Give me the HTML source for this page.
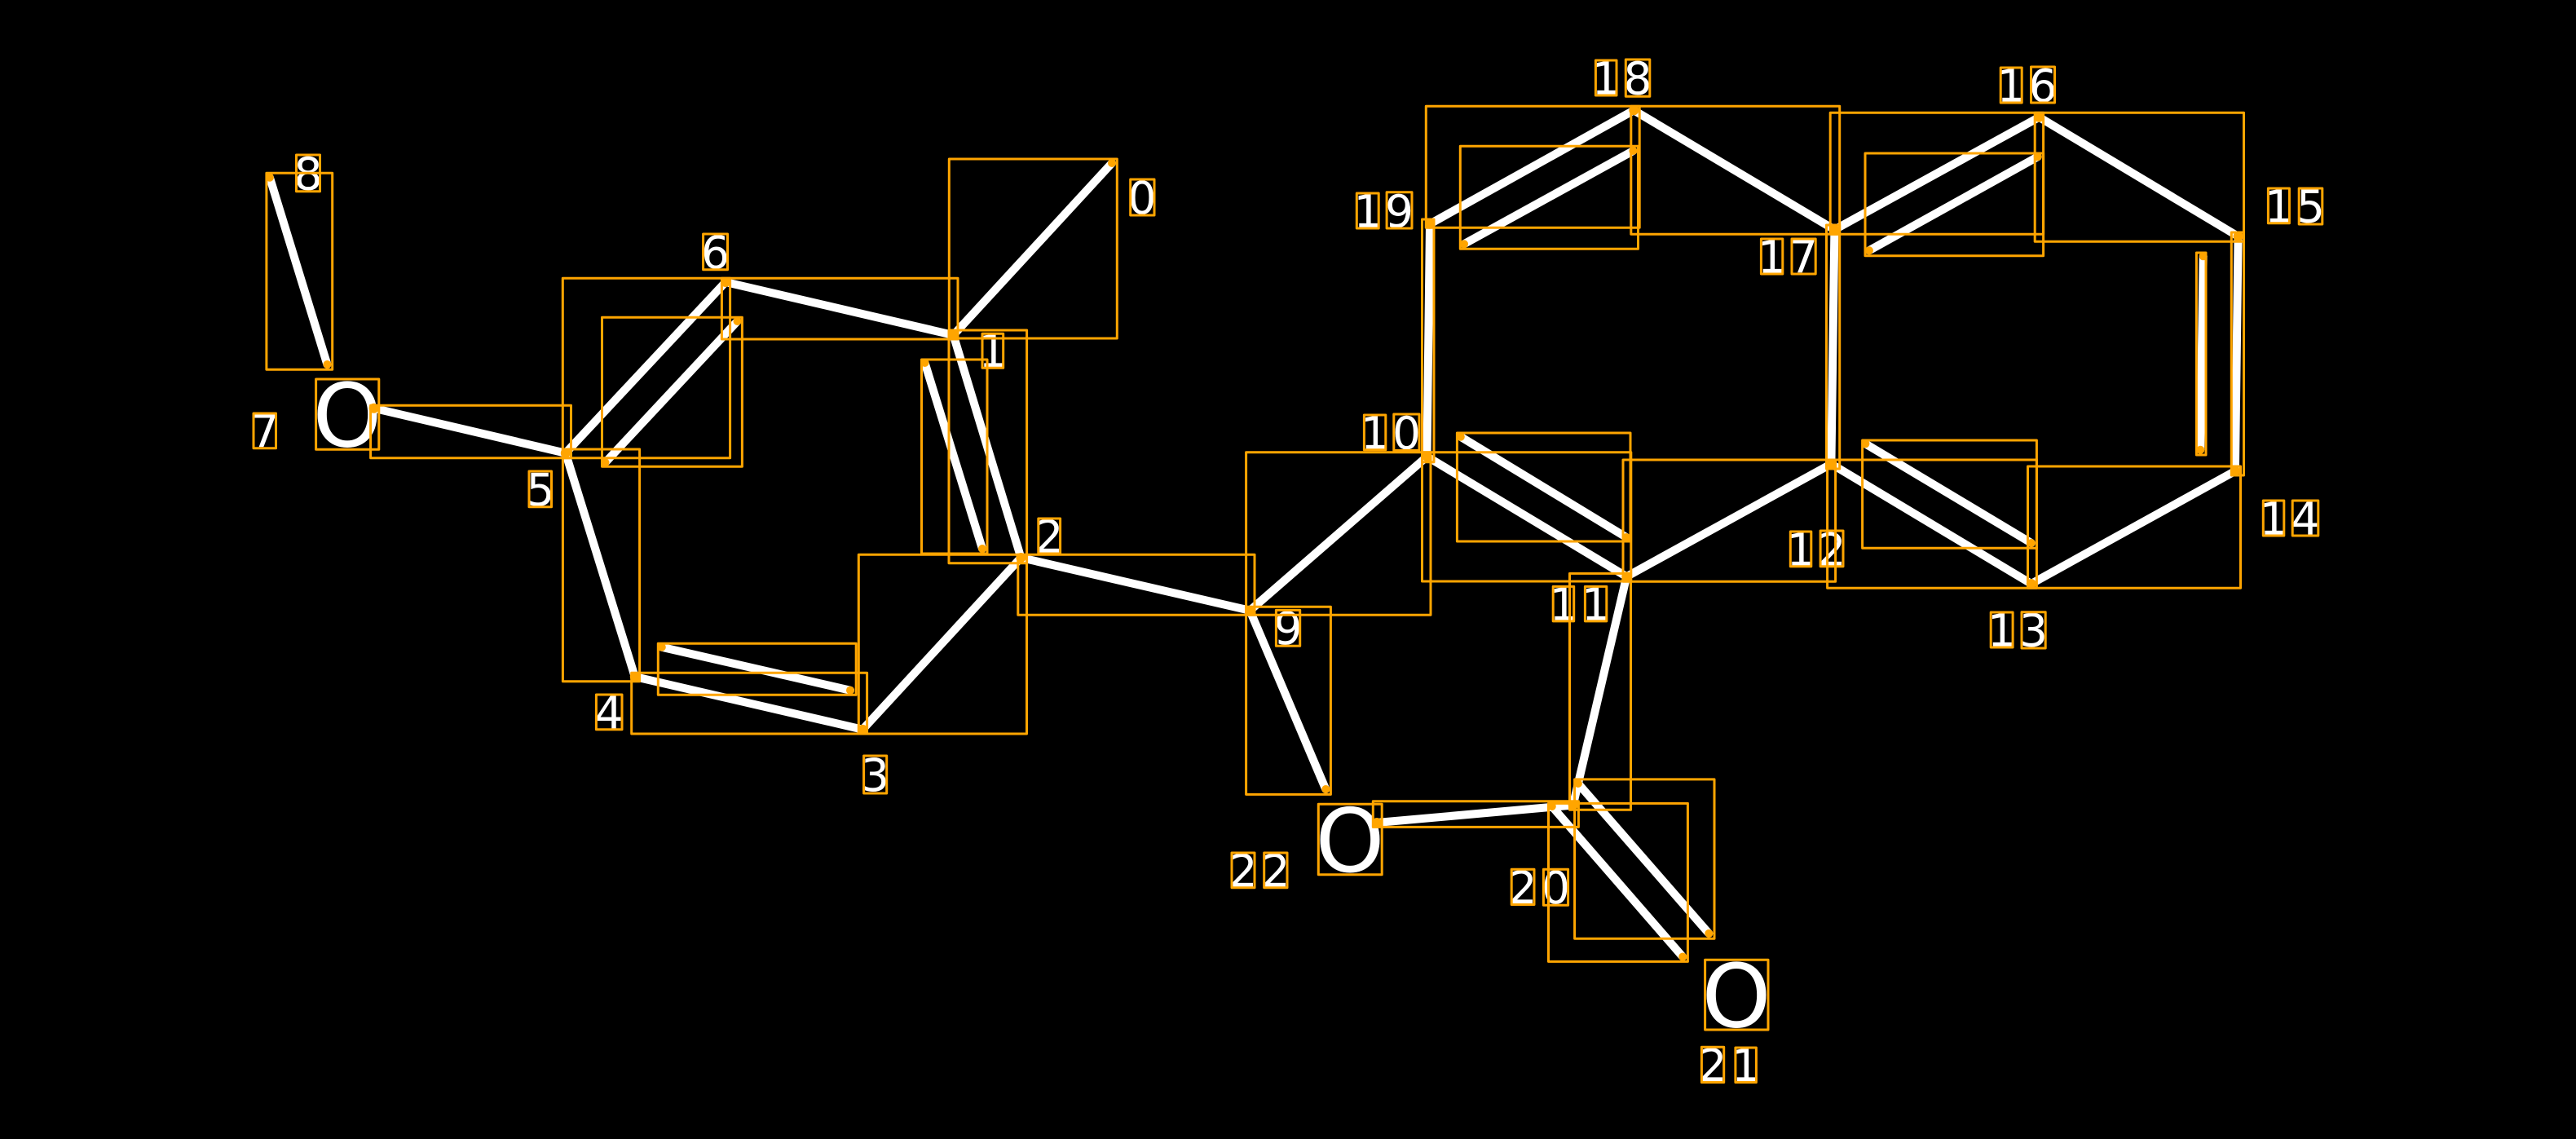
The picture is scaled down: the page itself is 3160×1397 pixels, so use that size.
<!DOCTYPE html>
<html>
<head>
<meta charset="utf-8">
<style>
html,body{margin:0;padding:0;background:#000;width:3160px;height:1397px;overflow:hidden}
svg{display:block}
text{font-family:"DejaVu Sans","Liberation Sans",sans-serif;fill:#fff;text-anchor:middle}
.d{font-size:55px}
.o{font-size:108px}
.w line{stroke:#fff;stroke-width:10;stroke-linecap:round}
.b path{fill:none;stroke:#FFA500;stroke-width:3;stroke-linejoin:round}
.c circle{fill:#FFA500}
</style>
</head>
<body>
<svg width="3160" height="1397" viewBox="0 0 3160 1397" xmlns="http://www.w3.org/2000/svg">
<rect width="3160" height="1397" fill="#000"/>
<g class="w">
<line x1="1364" y1="200" x2="1169.5" y2="411"/>
<line x1="1169.5" y1="411" x2="1252.4" y2="684"/>
<line x1="1134.5" y1="445" x2="1205" y2="673"/>
<line x1="1252.4" y1="684" x2="1058.2" y2="894.7"/>
<line x1="1058.2" y1="894.7" x2="778.8" y2="830"/>
<line x1="811.8" y1="793.7" x2="1043" y2="846.7"/>
<line x1="778.8" y1="830" x2="693.8" y2="555.7"/>
<line x1="693.8" y1="555.7" x2="890" y2="346"/>
<line x1="742.5" y1="567.3" x2="904.5" y2="394"/>
<line x1="890" y1="346" x2="1169.5" y2="411"/>
<line x1="458.6" y1="500.7" x2="693.8" y2="555.7"/>
<line x1="330.9" y1="217.7" x2="401.4" y2="447"/>
<line x1="1252.4" y1="684" x2="1533.3" y2="748.8"/>
<line x1="1533.3" y1="748.8" x2="1750.5" y2="560"/>
<line x1="1533.3" y1="748.8" x2="1626.3" y2="968"/>
<line x1="1750.5" y1="560" x2="1754" y2="274.7"/>
<line x1="1754" y1="274.7" x2="2004.3" y2="135.3"/>
<line x1="1796" y1="299.3" x2="2003.4" y2="185"/>
<line x1="2004.3" y1="135.3" x2="2250.4" y2="281.7"/>
<line x1="2250.4" y1="281.7" x2="2246.4" y2="569"/>
<line x1="2250.4" y1="281.7" x2="2501.4" y2="143.7"/>
<line x1="2292.9" y1="307.3" x2="2499.7" y2="192.3"/>
<line x1="2501.4" y1="143.7" x2="2745.6" y2="290"/>
<line x1="2745.6" y1="290" x2="2741.9" y2="577.7"/>
<line x1="2702.7" y1="314.3" x2="2699.2" y2="551.7"/>
<line x1="2741.9" y1="577.7" x2="2491.8" y2="716"/>
<line x1="2491.8" y1="716" x2="2246.4" y2="569"/>
<line x1="2288.4" y1="544.3" x2="2491.8" y2="666"/>
<line x1="2246.4" y1="569" x2="1995.3" y2="707.2"/>
<line x1="1995.3" y1="707.2" x2="1750.5" y2="560"/>
<line x1="1791.8" y1="535.7" x2="1995" y2="659"/>
<line x1="1995.3" y1="707.2" x2="1929.7" y2="987.5"/>
<line x1="1929.7" y1="987.5" x2="1689" y2="1009"/>
<line x1="1903.8" y1="989" x2="2064.2" y2="1173.5"/>
<line x1="1935.9" y1="961" x2="2096.3" y2="1144.9"/>
</g>
<text class="o" x="426" y="547.5">O</text>
<text class="o" x="1656" y="1069">O</text>
<text class="o" x="2130" y="1259.5">O</text>
<g>
<text class="d" x="1401" y="262">0</text>
<text class="d" x="1218" y="450">1</text>
<text class="d" x="1287" y="677.5">2</text>
<text class="d" x="1073.5" y="970">3</text>
<text class="d" x="747" y="893.5">4</text>
<text class="d" x="663" y="620">5</text>
<text class="d" x="877.5" y="329">6</text>
<text class="d" x="325" y="548.5">7</text>
<text class="d" x="378" y="232.5">8</text>
<text class="d" x="1580" y="790">9</text>
<text class="d" x="1686.5" y="550.5">1</text><text class="d" x="1725.5" y="550.5">0</text>
<text class="d" x="1918" y="760.5">1</text><text class="d" x="1957.5" y="760.5">1</text>
<text class="d" x="2209" y="693.5">1</text><text class="d" x="2247" y="693.5">2</text>
<text class="d" x="2455.5" y="792.5">1</text><text class="d" x="2494.5" y="792.5">3</text>
<text class="d" x="2789" y="655.5">1</text><text class="d" x="2828" y="655.5">4</text>
<text class="d" x="2795.5" y="272.5">1</text><text class="d" x="2834.5" y="272.5">5</text>
<text class="d" x="2467" y="124.5">1</text><text class="d" x="2506" y="124.5">6</text>
<text class="d" x="2173.5" y="334.5">1</text><text class="d" x="2212.5" y="334.5">7</text>
<text class="d" x="1970" y="115.5">1</text><text class="d" x="2009" y="115.5">8</text>
<text class="d" x="1678" y="278.5">1</text><text class="d" x="1716.5" y="278.5">9</text>
<text class="d" x="1868" y="1108">2</text><text class="d" x="1908.5" y="1108">0</text>
<text class="d" x="2101" y="1326">2</text><text class="d" x="2141.5" y="1326">1</text>
<text class="d" x="1525" y="1087.5">2</text><text class="d" x="1565" y="1087.5">2</text>
</g>
<g class="b">
<path d="M1164.3 195H1370.3V415H1164.3Z"/>
<path d="M1164 405H1259.6V690.7H1164Z"/>
<path d="M1130.5 441H1211V679H1130.5Z"/>
<path d="M1053.3 680.3H1259.5V900H1053.3Z"/>
<path d="M774.7 825.3H1063.6V900H774.7Z"/>
<path d="M807.3 789.3H1050.2V852.3H807.3Z"/>
<path d="M690.4 551H784.6V835.7H690.4Z"/>
<path d="M690.3 341.3H895.6V561.7H690.3Z"/>
<path d="M738.5 389.3H910.4V572.3H738.5Z"/>
<path d="M885.4 341.3H1175V416H885.4Z"/>
<path d="M454.6 497.3H700.5V561.7H454.6Z"/>
<path d="M326.9 212.3H407.7V453.3H326.9Z"/>
<path d="M1248.8 680.3H1539V754.3H1248.8Z"/>
<path d="M1528.6 554.7H1755V754.3H1528.6Z"/>
<path d="M1528.6 744.2H1632.4V974.4H1528.6Z"/>
<path d="M1744.5 269H1759V566.7H1744.5Z"/>
<path d="M1749.3 130.3H2011.2V279.3H1749.3Z"/>
<path d="M1791.3 179.3H2009.5V305.3H1791.3Z"/>
<path d="M2000.8 130.3H2256.7V287.3H2000.8Z"/>
<path d="M2240.5 276H2256.7V575H2240.5Z"/>
<path d="M2245.2 138.3H2506.6V287.3H2245.2Z"/>
<path d="M2288 188H2506.6V313.7H2288Z"/>
<path d="M2496.2 138.3H2752.5V296.3H2496.2Z"/>
<path d="M2737.3 285H2752.5V583H2737.3Z"/>
<path d="M2694.4 310H2706V558H2694.4Z"/>
<path d="M2487.5 572H2748.5V721.3H2487.5Z"/>
<path d="M2241.6 564H2498.4V721.3H2241.6Z"/>
<path d="M2284.6 540H2498.4V672.3H2284.6Z"/>
<path d="M1991 564H2251.6V713.3H1991Z"/>
<path d="M1744.5 554.7H2000.8V713H1744.5Z"/>
<path d="M1787.4 531H2000V664H1787.4Z"/>
<path d="M1925.5 703.4H2000.5V993.3H1925.5Z"/>
<path d="M1684.3 982.8H1936.4V1014.4H1684.3Z"/>
<path d="M1899.5 985.4H2070.4V1179.4H1899.5Z"/>
<path d="M1931.6 955.9H2103V1151.2H1931.6Z"/>
<path d="M387.6 465H464.8V551.3H387.6Z"/>
<path d="M1617.3 986.2H1695.2V1072.7H1617.3Z"/>
<path d="M2091.6 1177.3H2169V1263H2091.6Z"/>
<path d="M1386.7 220H1416V264H1386.7Z"/>
<path d="M1205 409.3H1230.7V451.3H1205Z"/>
<path d="M1273.8 636H1300.6V679H1273.8Z"/>
<path d="M1059.6 927H1087.7V973H1059.6Z"/>
<path d="M731.4 852H763V894.7H731.4Z"/>
<path d="M649 578H676.5V621.7H649Z"/>
<path d="M862.6 287H892.5V330.7H862.6Z"/>
<path d="M311 507H338.5V549.7H311Z"/>
<path d="M363.5 190H392.5V234.7H363.5Z"/>
<path d="M1565.4 748.4H1594.7V792.2H1565.4Z"/>
<path d="M1673.4 509H1699.8V551.7H1673.4Z"/><path d="M1709.8 508H1741V552.5H1709.8Z"/>
<path d="M1905.2 719.4H1930.7V761.9H1905.2Z"/><path d="M1944.4 719.4H1970.8V761.9H1944.4Z"/>
<path d="M2196.3 652H2221.8V694.7H2196.3Z"/><path d="M2233.1 651H2261V694.7H2233.1Z"/>
<path d="M2442.2 751H2469.1V794H2442.2Z"/><path d="M2480 750.7H2509.2V795H2480Z"/>
<path d="M2776.3 614H2801.8V657H2776.3Z"/><path d="M2812.2 614H2843.8V657H2812.2Z"/>
<path d="M2782.4 231H2808.4V273.7H2782.4Z"/><path d="M2820.2 231H2848.8V275H2820.2Z"/>
<path d="M2454.2 83H2480.2V126H2454.2Z"/><path d="M2491.5 82H2520.5V126H2491.5Z"/>
<path d="M2160.4 293H2186.8V336H2160.4Z"/><path d="M2198 293H2227.2V336H2198Z"/>
<path d="M1957.4 74H1983V117H1957.4Z"/><path d="M1994.3 73H2023.8V118.3H1994.3Z"/>
<path d="M1664.3 237H1691.2V280H1664.3Z"/><path d="M1701.1 235.7H1732V280H1701.1Z"/>
<path d="M1854.2 1066.2H1882V1109.5H1854.2Z"/><path d="M1893.4 1066.2H1923.6V1110.3H1893.4Z"/>
<path d="M2087.4 1284.2H2114.7V1327.5H2087.4Z"/><path d="M2128.9 1285H2154.4V1327.5H2128.9Z"/>
<path d="M1511 1046H1539V1088.7H1511Z"/><path d="M1550.7 1046H1579V1088.7H1550.7Z"/>
</g>
<g class="c">
<circle cx="1364" cy="200" r="5"/><circle cx="1169.5" cy="411" r="6"/><circle cx="1252.4" cy="684" r="6"/>
<circle cx="1134.5" cy="445" r="5"/><circle cx="1205" cy="673" r="5"/><circle cx="1058.2" cy="894.7" r="6"/>
<circle cx="778.8" cy="830" r="6"/><circle cx="811.8" cy="793.7" r="5"/><circle cx="1043" cy="846.7" r="5"/>
<circle cx="693.8" cy="555.7" r="6"/><circle cx="890" cy="346" r="6"/><circle cx="742.5" cy="567.3" r="5"/>
<circle cx="904.5" cy="394" r="5"/><circle cx="458.6" cy="500.7" r="6"/><circle cx="330.9" cy="217.7" r="5"/>
<circle cx="401.4" cy="447" r="5"/><circle cx="1533.3" cy="748.8" r="6"/><circle cx="1750.5" cy="560" r="6"/>
<circle cx="1626.3" cy="968" r="5"/><circle cx="1754" cy="274.7" r="6"/><circle cx="2004.3" cy="135.3" r="6"/>
<circle cx="1796" cy="299.3" r="5"/><circle cx="2003.4" cy="185" r="5"/><circle cx="2250.4" cy="281.7" r="6"/>
<circle cx="2246.4" cy="569" r="6"/><circle cx="2501.4" cy="143.7" r="6"/><circle cx="2292.9" cy="307.3" r="5"/>
<circle cx="2499.7" cy="192.3" r="5"/><circle cx="2745.6" cy="290" r="6"/><circle cx="2741.9" cy="577.7" r="6"/>
<circle cx="2702.7" cy="314.3" r="5"/><circle cx="2699.2" cy="551.7" r="5"/><circle cx="2491.8" cy="716" r="6"/>
<circle cx="2288.4" cy="544.3" r="5"/><circle cx="2491.8" cy="666" r="5"/><circle cx="1995.3" cy="707.2" r="6"/>
<circle cx="1791.8" cy="535.7" r="5"/><circle cx="1995" cy="659" r="5"/><circle cx="1929.7" cy="987.5" r="6"/>
<circle cx="1689" cy="1009" r="6"/><circle cx="1903.8" cy="989" r="5"/><circle cx="2064.2" cy="1173.5" r="5"/>
<circle cx="1935.9" cy="961" r="5"/><circle cx="2096.3" cy="1144.9" r="5"/>
</g>
</svg>
</body>
</html>
